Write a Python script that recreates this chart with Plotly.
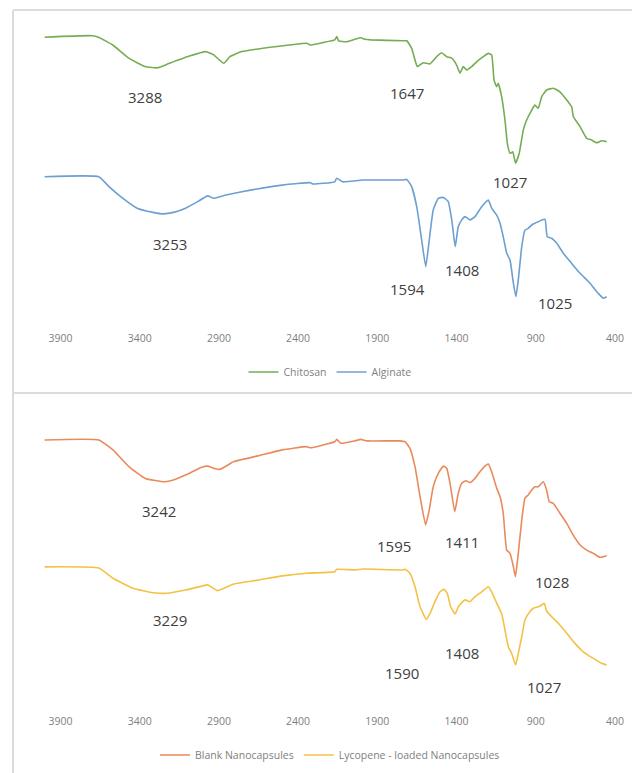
import numpy as np
import plotly.graph_objects as go

# ---------------- FTIR spectra (wavenumber in cm-1, offset transmittance a.u.) ----------------
chitosan_wn = [4000, 3700, 3660, 3570, 3468, 3365, 3288, 3212, 3086, 2984, 2933, 2869, 2831,
               2755, 2551, 2347, 2322, 2245, 2169, 2156, 2144, 2093, 2042, 2004, 1978, 1940,
               1737, 1714, 1683, 1662, 1647, 1610, 1567, 1525, 1494, 1462, 1430, 1399, 1378,
               1357, 1336, 1304, 1273, 1231, 1199, 1178, 1163, 1146, 1136, 1115, 1094, 1079,
               1062, 1045, 1027, 1004, 978, 957, 925, 905, 884, 862, 831, 789, 747, 704, 673,
               662, 620, 578, 547, 515, 484, 452]
chitosan_t = [97.6, 98.1, 97.6, 95.0, 90.6, 87.8, 87.4, 88.9, 91.3, 92.8, 91.7, 88.9, 91.1,
              92.8, 94.4, 95.6, 95.0, 95.8, 96.7, 97.8, 96.4, 96.1, 96.9, 97.4, 96.9, 96.7,
              96.4, 96.4, 93.9, 90.0, 87.8, 89.1, 88.7, 91.1, 92.4, 91.1, 90.6, 88.3, 85.6,
              87.8, 86.7, 87.8, 89.4, 91.1, 92.2, 91.7, 83.3, 81.1, 82.2, 77.8, 70.0, 62.2,
              58.9, 59.4, 55.6, 58.9, 66.7, 70.0, 73.3, 75.0, 73.9, 77.8, 80.0, 80.6, 79.4,
              76.7, 74.4, 71.1, 67.8, 63.9, 63.3, 62.4, 63.1, 62.8]

alginate_wn = [4000, 3658, 3594, 3518, 3416, 3315, 3253, 3180, 3111, 3034, 2971, 2933, 2856,
               2755, 2500, 2322, 2309, 2169, 2156, 2119, 1991, 1737, 1714, 1683, 1651, 1620,
               1594, 1572, 1547, 1515, 1483, 1452, 1430, 1408, 1389, 1367, 1346, 1315, 1283,
               1241, 1199, 1178, 1146, 1125, 1105, 1083, 1062, 1041, 1025, 1010, 988, 968, 947,
               925, 905, 884, 862, 841, 827, 799, 767, 726, 673, 620, 557, 505, 473, 452]
alginate_t = [51.1, 51.1, 47.8, 44.4, 40.6, 39.2, 38.7, 39.3, 40.6, 42.8, 44.7, 43.9, 45.0,
              46.1, 48.3, 49.1, 48.7, 49.4, 50.6, 49.4, 50.0, 50.0, 50.2, 47.8, 41.1, 30.0,
              21.1, 30.0, 40.0, 43.9, 44.2, 42.8, 36.7, 27.8, 34.4, 36.7, 37.8, 36.7, 37.8,
              41.1, 43.3, 40.6, 38.3, 35.6, 31.1, 25.6, 23.3, 15.6, 11.1, 16.7, 27.8, 33.3, 33.9,
              35.0, 35.6, 36.1, 36.7, 36.9, 31.1, 30.6, 28.9, 25.6, 22.2, 18.9, 15.6, 12.2, 10.6, 11.1]

blank_wn = [4000, 3658, 3569, 3468, 3365, 3242, 3187, 3086, 3009, 2971, 2933, 2894, 2805, 2653,
            2500, 2347, 2322, 2245, 2169, 2156, 2131, 2042, 2004, 1966, 1762, 1725, 1694, 1662,
            1630, 1595, 1572, 1547, 1515, 1483, 1462, 1441, 1411, 1389, 1367, 1340, 1315, 1283,
            1252, 1220, 1199, 1178, 1146, 1125, 1105, 1083, 1062, 1041, 1028, 1010, 988, 968,
            947, 925, 905, 884, 852, 831, 814, 789, 747, 704, 663, 620, 578, 536, 494, 452]
blank_t = [91.0, 91.0, 87.7, 82.1, 78.2, 77.1, 77.7, 79.9, 81.9, 82.3, 81.6, 81.2, 83.8, 85.7,
           87.7, 88.8, 88.4, 89.3, 90.4, 91.2, 89.9, 90.7, 91.2, 90.7, 90.7, 90.4, 88.2, 82.1,
           72.1, 62.7, 67.7, 75.4, 79.9, 82.3, 81.6, 76.6, 67.1, 73.2, 76.6, 77.4, 76.8, 78.2,
           80.4, 82.3, 83.0, 80.4, 74.9, 72.1, 66.6, 54.3, 53.2, 48.8, 45.4, 53.2, 64.3, 71.6,
           72.7, 74.3, 75.4, 75.4, 77.1, 74.3, 70.4, 69.9, 66.6, 63.2, 59.3, 56.0, 54.3, 53.2, 51.9, 52.4]

lycopene_wn = [4000, 3658, 3569, 3442, 3315, 3229, 3111, 3009, 2971, 2908, 2805, 2653, 2500,
               2347, 2169, 2156, 2042, 1991, 1737, 1725, 1694, 1662, 1630, 1590, 1567, 1536,
               1504, 1479, 1458, 1437, 1408, 1389, 1367, 1346, 1315, 1283, 1241, 1199, 1178,
               1146, 1115, 1094, 1073, 1052, 1027, 1010, 988, 968, 936, 915, 884, 862, 846, 831,
               799, 757, 704, 652, 600, 536, 484, 452]
lycopene_t = [48.7, 48.3, 44.9, 41.6, 40.1, 39.9, 41.0, 42.3, 42.7, 40.8, 43.0, 44.3, 45.7,
              46.6, 47.1, 47.9, 47.7, 48.0, 47.7, 47.9, 46.6, 42.1, 35.4, 31.2, 33.2, 37.1,
              40.4, 41.2, 39.9, 35.4, 33.0, 35.4, 36.8, 37.7, 37.1, 38.8, 40.4, 42.1, 40.4,
              36.6, 33.2, 27.7, 22.1, 19.9, 16.0, 19.9, 25.4, 31.0, 33.8, 34.9, 35.4, 36.0, 36.6, 34.0,
              32.1, 29.9, 26.6, 23.2, 20.4, 18.2, 16.6, 16.0]

tick_values = [3900, 3400, 2900, 2400, 1900, 1400, 900, 400]

# Labelled absorption bands per spectrum
chitosan_peaks = [3288, 1647, 1027]
alginate_peaks = [3253, 1594, 1408, 1025]
blank_peaks = [3242, 1595, 1411, 1028]
lycopene_peaks = [3229, 1590, 1408, 1027]

# ---------------- styling / geometry ----------------
W, H = 632, 773
FONT = "Open Sans"
LABEL_COLOR = "#404040"
AXIS_COLOR = "#808080"
BORDER = "#dcdcdc"
COLORS = {"Chitosan": "#76ac52", "Alginate": "#6c9fd2",
          "Blank Nanocapsules": "#e98a5d", "Lycopene - loaded Nanocapsules": "#f3c144"}

# px position of tick 3900 and tick 400, and the horizontal extent of the plot area
px_3900, px_400 = 60.5, 614.9
plot_left, plot_right = 30, 625
k = (px_400 - px_3900) / 3500.0
x_range = [3900 + (px_3900 - plot_left) / k, 400 - (plot_right - px_400) / k]
x_dom = [plot_left / W, plot_right / W]

# vertical extents (px from top) of the two panels; 3 px per y unit
top_panel = (20, 330)
bottom_panel = (405, 713)
YPX = 3.0


def ydomain(p):
    return [1 - p[1] / H, 1 - p[0] / H]


# per-label pixel offsets from the labelled band minimum: (dx, dy)
offsets = {
    "Chitosan": [(-12, -29.5), (-10, -26), (-5.6, -18.5)],
    "Alginate": [(7, -30), (-18.7, -22.6), (6.8, -23.4), (39, -6.6)],
    "Blank Nanocapsules": [(-6, -29.3), (-31.6, -20.8), (7, -30), (36.3, -4.9)],
    "Lycopene - loaded Nanocapsules": [(3.2, -26.7), (-24.4, -53.9), (6.8, -39.3), (28.4, -22.3)],
}

series = [
    ("Chitosan", chitosan_wn, chitosan_t, chitosan_peaks, "x", "y", "legend"),
    ("Alginate", alginate_wn, alginate_t, alginate_peaks, "x", "y", "legend"),
    ("Blank Nanocapsules", blank_wn, blank_t, blank_peaks, "x2", "y2", "legend2"),
    ("Lycopene - loaded Nanocapsules", lycopene_wn, lycopene_t, lycopene_peaks, "x2", "y2", "legend2"),
]

fig = go.Figure()
annotations = []
for name, wn, t, peaks, xa, ya, lg in series:
    fig.add_trace(go.Scatter(
        x=wn, y=t, mode="lines", name=name, xaxis=xa, yaxis=ya, legend=lg,
        line=dict(color=COLORS[name], width=1.6, shape="spline", smoothing=0.4),
        hoverinfo="x+y+name",
    ))
    xp = np.array(wn[::-1], dtype=float)
    fp = np.array(t[::-1], dtype=float)
    for p, (dx, dy) in zip(peaks, offsets[name]):
        annotations.append(dict(
            x=p, y=float(np.interp(p, xp, fp)), xref=xa, yref=ya,
            text=str(p), showarrow=False, xshift=dx, yshift=dy,
            font=dict(family=FONT, size=15, color=LABEL_COLOR),
        ))

axis_common = dict(range=x_range, domain=x_dom, showgrid=False, zeroline=False,
                   showline=False, ticks="", tickmode="array", tickvals=tick_values,
                   ticktext=[str(v) for v in tick_values],
                   tickfont=dict(family=FONT, size=10.5, color=AXIS_COLOR))
yaxis_common = dict(showgrid=False, zeroline=False, showline=False,
                    showticklabels=False, ticks="", fixedrange=True)

legend_common = dict(orientation="h", xanchor="center", x=330 / W, yanchor="middle",
                     font=dict(family=FONT, size=10.5, color=AXIS_COLOR),
                     bgcolor="rgba(0,0,0,0)", itemwidth=30, tracegroupgap=0)

border = dict(color=BORDER, width=2)
shapes = [
    dict(type="line", xref="paper", yref="paper", x0=13 / W, x1=13 / W, y0=0, y1=1 - 10 / H, line=border),
    dict(type="line", xref="paper", yref="paper", x0=13 / W, x1=1, y0=1 - 10 / H, y1=1 - 10 / H, line=border),
    dict(type="line", xref="paper", yref="paper", x0=13 / W, x1=1, y0=1 - 393 / H, y1=1 - 393 / H, line=border),
]

fig.update_layout(
    width=W, height=H, margin=dict(l=0, r=0, t=0, b=0),
    paper_bgcolor="white", plot_bgcolor="white",
    font=dict(family=FONT),
    xaxis=dict(anchor="y", **axis_common),
    yaxis=dict(anchor="x", domain=ydomain(top_panel),
               range=[0, (top_panel[1] - top_panel[0]) / YPX], **yaxis_common),
    xaxis2=dict(anchor="y2", **axis_common),
    yaxis2=dict(anchor="x2", domain=ydomain(bottom_panel),
                range=[0, (bottom_panel[1] - bottom_panel[0]) / YPX], **yaxis_common),
    legend=dict(y=1 - 372 / H, **legend_common),
    legend2=dict(y=1 - 755 / H, **legend_common),
    annotations=annotations,
    shapes=shapes,
    showlegend=True,
)

fig.write_html("out.html")
